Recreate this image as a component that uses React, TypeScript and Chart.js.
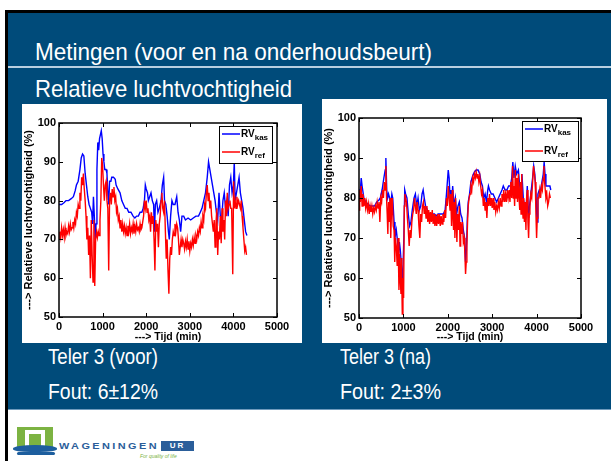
import React, { useEffect, useLayoutEffect, useRef } from "react";
import { Chart, registerables } from "chart.js";
Chart.register(...registerables);

// ---------- data ----------
const xTickValues = [0, 1000, 2000, 3000, 4000, 5000];
const yTickValues = [50, 60, 70, 80, 90, 100];

const titleText = "Metingen (voor en na onderhoudsbeurt)";
const subtitleText = "Relatieve luchtvochtigheid";
const captionLeft = ["Teler 3 (voor)", "Fout: 6\u00b112%"];
const captionRight = ["Teler 3 (na)", "Fout: 2\u00b13%"];
const xAxisTitle = "---> Tijd (min)";
const yAxisTitle = "---> Relatieve luchtvochtigheid (%)";

// Teler 3 (voor): RV kas (blue)
const voorKas: [number, number][] = [
  [0, 79], [60, 79], [120, 79.5], [160, 80], [220, 80], [280, 80.5], [330, 81], [370, 82.5], [400, 84], [440, 85],
  [480, 88], [510, 91], [540, 92], [570, 91.5], [600, 87], [630, 84], [660, 81], [690, 79], [720, 78], [750, 77],
  [770, 74], [790, 81], [810, 76], [830, 70], [850, 74], [870, 88], [890, 95], [910, 93], [930, 96], [950, 97],
  [970, 98], [990, 96], [1010, 92], [1030, 90], [1050, 88], [1080, 88], [1100, 87], [1120, 82], [1140, 79], [1160, 85],
  [1190, 85], [1210, 86], [1250, 86], [1290, 85.5], [1310, 84], [1350, 83], [1400, 82], [1440, 80], [1480, 79], [1520, 78],
  [1560, 78], [1600, 77], [1650, 77], [1700, 76], [1740, 75.5], [1780, 76], [1820, 76], [1860, 77], [1900, 77], [1930, 78],
  [1960, 80], [1980, 84], [2000, 83], [2030, 82], [2050, 80], [2080, 81], [2110, 82], [2140, 80], [2170, 79], [2190, 72],
  [2210, 79], [2240, 80], [2270, 77], [2300, 78], [2340, 80], [2370, 84], [2400, 86], [2420, 80], [2450, 79], [2480, 76],
  [2510, 72], [2530, 70], [2560, 76], [2590, 80], [2620, 79], [2660, 79], [2700, 81], [2730, 77], [2760, 75], [2790, 72],
  [2820, 76], [2860, 76], [2900, 75], [2960, 75.5], [3020, 75], [3080, 75.5], [3140, 76], [3200, 76], [3240, 77], [3280, 78],
  [3320, 80], [3360, 82], [3400, 86], [3430, 90], [3460, 88], [3490, 86], [3520, 84], [3550, 82], [3580, 80], [3610, 77],
  [3640, 75], [3670, 82], [3700, 76], [3730, 75], [3760, 80], [3790, 82], [3820, 78], [3850, 80], [3880, 76], [3910, 84],
  [3940, 86], [3970, 82], [4000, 84], [4020, 90], [4040, 80], [4070, 82], [4100, 84], [4130, 86], [4160, 82], [4190, 80],
  [4220, 78], [4250, 75], [4280, 72], [4310, 71],
];

// Teler 3 (voor): RV ref (red)
const voorRef: [number, number][] = [
  [0, 70], [20, 72], [40, 70.5], [60, 73], [80, 71], [100, 72.5], [120, 70.5], [140, 73], [160, 71], [180, 72],
  [200, 71.5], [220, 73.5], [240, 72], [260, 74], [280, 72.5], [300, 73], [320, 74.5], [340, 73], [360, 75], [380, 74],
  [400, 77], [420, 76], [440, 79], [460, 78], [480, 82], [500, 80], [520, 86], [540, 84], [560, 87], [580, 83],
  [600, 80], [620, 76], [640, 70], [660, 73], [680, 66], [700, 71], [720, 60], [740, 75], [760, 66], [780, 59],
  [800, 75], [820, 58], [840, 70], [860, 72], [880, 70.5], [900, 72], [920, 71], [940, 75], [960, 80], [980, 91],
  [1000, 89], [1020, 84], [1040, 80], [1060, 84], [1080, 85], [1100, 80], [1120, 78], [1140, 62], [1160, 80], [1180, 82],
  [1200, 79], [1220, 83], [1240, 81], [1260, 83.5], [1280, 80], [1300, 81], [1320, 77], [1340, 78], [1360, 75], [1380, 76],
  [1400, 73], [1420, 75], [1440, 72], [1460, 74], [1480, 72], [1500, 73.5], [1520, 71.5], [1540, 73], [1560, 71], [1580, 73.5],
  [1600, 72], [1620, 74], [1640, 71.5], [1660, 73], [1680, 72], [1700, 74], [1720, 71.5], [1740, 73.5], [1760, 72], [1780, 74],
  [1800, 72.5], [1820, 73], [1840, 72], [1860, 74], [1880, 72.5], [1900, 73], [1920, 74.5], [1940, 76], [1960, 80], [1980, 78],
  [2000, 80], [2020, 77], [2040, 78], [2060, 75], [2080, 76], [2100, 72], [2120, 77], [2140, 74], [2160, 76], [2180, 70],
  [2200, 62], [2220, 75], [2240, 72], [2260, 74], [2280, 68], [2300, 74], [2320, 76], [2340, 80], [2360, 82], [2380, 78],
  [2400, 77], [2420, 80], [2440, 72], [2460, 65], [2480, 70], [2500, 62], [2520, 56], [2540, 65], [2560, 68], [2580, 66],
  [2600, 70], [2620, 72], [2640, 71], [2660, 74], [2680, 72], [2700, 74], [2720, 73], [2740, 70], [2760, 66], [2780, 68],
  [2800, 70], [2820, 68], [2840, 70], [2860, 69], [2880, 67.5], [2900, 69.5], [2920, 68], [2940, 70], [2960, 67.5], [2980, 69.5],
  [3000, 67], [3020, 69], [3040, 68], [3060, 70], [3080, 68.5], [3100, 70.5], [3120, 69], [3140, 71], [3160, 70], [3180, 72],
  [3200, 71], [3220, 73], [3240, 72], [3260, 74.5], [3280, 73], [3300, 76], [3320, 75], [3340, 79], [3360, 78], [3380, 82],
  [3400, 84], [3420, 80], [3440, 82], [3460, 78], [3480, 80], [3500, 76], [3520, 74], [3540, 72], [3560, 75], [3580, 68],
  [3600, 74], [3620, 78], [3640, 66], [3660, 72], [3680, 70], [3700, 76], [3720, 69], [3740, 78], [3760, 72], [3780, 75],
  [3800, 70], [3820, 80], [3840, 76], [3860, 82], [3880, 78], [3900, 79], [3920, 80], [3940, 78], [3960, 78], [3985, 61],
  [4005, 85], [4020, 78], [4040, 80], [4060, 78], [4080, 81], [4100, 79], [4120, 80], [4140, 79], [4160, 78], [4180, 80],
  [4200, 76], [4220, 73], [4240, 70], [4260, 67], [4280, 68], [4300, 66],
];

// Teler 3 (na): RV kas (blue)
const naKas: [number, number][] = [
  [0, 82], [30, 82], [50, 85], [70, 83], [90, 83], [110, 80], [150, 79], [200, 78.5], [250, 78], [300, 78],
  [350, 78], [400, 79], [450, 79.5], [480, 80], [520, 82], [560, 85], [590, 87], [605, 90], [625, 82], [645, 80],
  [665, 81], [690, 80], [710, 78], [740, 81], [760, 80], [790, 74], [810, 70], [840, 72], [870, 69], [890, 66],
  [910, 69], [930, 67], [950, 64], [970, 60], [990, 62], [1010, 70], [1030, 82], [1050, 81], [1080, 80], [1110, 76],
  [1140, 73], [1170, 74], [1200, 77], [1240, 80], [1270, 81], [1300, 78], [1330, 80], [1360, 77], [1390, 78], [1420, 81],
  [1445, 82], [1470, 80], [1500, 78], [1540, 77], [1580, 76], [1620, 76], [1660, 76], [1700, 76], [1740, 75.5], [1780, 76],
  [1820, 76], [1860, 76], [1900, 76], [1940, 77], [1970, 81], [1990, 84], [2010, 87], [2030, 85], [2050, 80], [2070, 82],
  [2090, 79], [2110, 83], [2140, 78], [2170, 80], [2200, 76], [2230, 78], [2260, 79], [2290, 76], [2320, 75], [2350, 72],
  [2380, 70], [2400, 64], [2420, 67], [2440, 75], [2460, 79], [2490, 81], [2520, 84], [2560, 85.5], [2600, 86.5], [2640, 87],
  [2680, 87], [2720, 86], [2750, 84], [2780, 83], [2810, 80], [2840, 81], [2870, 79], [2900, 82], [2915, 83], [2940, 82],
  [2980, 81], [3020, 81], [3060, 80], [3100, 79], [3140, 80], [3180, 81], [3220, 82], [3250, 83], [3290, 82], [3330, 82],
  [3370, 83], [3410, 83], [3440, 85], [3465, 89], [3490, 85], [3520, 88], [3550, 86], [3590, 87], [3620, 83], [3650, 80],
  [3670, 86], [3700, 80], [3730, 78], [3760, 76], [3790, 83], [3820, 75], [3850, 79], [3880, 82], [3910, 85], [3935, 88],
  [3960, 86], [3990, 80], [4010, 74], [4030, 81], [4060, 82], [4090, 82], [4120, 84], [4150, 86], [4170, 89], [4190, 86],
  [4210, 83], [4240, 83], [4270, 83], [4300, 83], [4320, 82],
];

// Teler 3 (na): RV ref (red)
const naRef: [number, number][] = [
  [0, 77], [15, 82], [30, 79], [50, 83], [70, 78], [90, 81], [110, 78], [130, 80], [150, 77.5], [170, 79],
  [190, 77], [210, 78.5], [230, 76], [250, 78], [270, 76.5], [290, 78], [310, 76], [330, 77.5], [350, 76.5], [370, 78],
  [390, 77], [410, 79], [430, 77.5], [450, 79], [470, 74], [490, 80], [510, 79], [530, 82], [550, 80], [570, 84],
  [590, 82], [605, 88], [620, 80], [635, 76], [650, 71], [665, 79], [680, 74], [700, 80], [715, 70], [730, 76],
  [750, 80], [770, 73], [790, 72], [805, 64], [820, 70], [840, 68], [860, 63], [880, 70], [900, 57], [915, 66],
  [930, 60], [945, 56], [955, 65], [965, 58], [975, 51], [990, 60], [1005, 55], [1020, 78], [1035, 81], [1050, 80],
  [1070, 79], [1090, 75], [1110, 72], [1130, 68], [1150, 72], [1170, 70], [1190, 74], [1210, 76], [1230, 77], [1250, 80],
  [1270, 78], [1290, 76], [1310, 79], [1330, 77], [1350, 73], [1370, 70], [1390, 76], [1410, 74], [1430, 78], [1450, 79],
  [1470, 76], [1490, 78], [1510, 75], [1530, 78], [1550, 74], [1570, 77], [1590, 73.5], [1610, 76.5], [1630, 74], [1650, 77],
  [1670, 73.5], [1690, 76], [1710, 73], [1730, 75.5], [1750, 73], [1770, 76], [1790, 73.5], [1810, 76], [1830, 73], [1850, 75.5],
  [1870, 73.5], [1890, 76], [1910, 74], [1930, 77], [1950, 75], [1970, 80], [1990, 78], [2010, 83], [2030, 80], [2050, 77],
  [2065, 81], [2085, 73], [2100, 82], [2115, 76], [2130, 72], [2145, 79], [2160, 70], [2175, 80], [2190, 74], [2205, 69],
  [2220, 76], [2240, 72], [2260, 78], [2275, 68], [2290, 74], [2310, 71], [2330, 74], [2350, 69], [2370, 70], [2385, 66],
  [2400, 61], [2415, 64], [2430, 68], [2445, 74], [2460, 78], [2480, 80], [2500, 81], [2520, 83], [2540, 82], [2560, 85],
  [2580, 84], [2600, 86], [2620, 85], [2640, 86.5], [2660, 85], [2680, 86], [2700, 84], [2720, 85.5], [2740, 83], [2760, 81],
  [2780, 82], [2800, 78], [2820, 80], [2840, 77], [2860, 79], [2880, 75], [2900, 80], [2920, 78], [2940, 81], [2960, 78],
  [2980, 80], [3000, 77.5], [3020, 80], [3040, 77], [3060, 79], [3080, 76.5], [3100, 78], [3120, 77], [3140, 79], [3160, 77.5],
  [3180, 80], [3200, 78], [3220, 81], [3240, 79], [3260, 82], [3280, 79], [3300, 81], [3320, 79], [3340, 82], [3360, 80],
  [3380, 82], [3400, 79], [3420, 84], [3440, 80], [3460, 88], [3475, 80], [3490, 83], [3505, 78], [3520, 87], [3540, 80],
  [3555, 85], [3570, 79], [3590, 86], [3605, 80], [3620, 77], [3635, 84], [3650, 76], [3665, 86], [3680, 78], [3695, 75],
  [3710, 80], [3725, 74], [3740, 79], [3760, 72], [3775, 80], [3790, 82], [3805, 74], [3820, 70], [3835, 76], [3850, 78],
  [3870, 81], [3890, 80], [3910, 84], [3930, 88], [3950, 86], [3970, 84], [3985, 76], [4000, 70], [4015, 75], [4030, 80],
  [4050, 80], [4070, 82], [4090, 80], [4110, 83], [4130, 82], [4150, 85], [4165, 88], [4180, 84], [4195, 82], [4210, 80],
  [4230, 81], [4250, 78], [4270, 79], [4290, 81], [4310, 80],
];

// ---------- chart ----------
const FONT = '"Liberation Sans", Arial, sans-serif';
const BLUE = "#0000ff";
const RED = "#ff0000";

type LegendBox = { inset: number; top: number; w: number; h: number; y1: number; y2: number };

const framePlugin = {
  id: "matlabFrame",
  afterDatasetsDraw(chart: any, _args: any, opts: any) {
    const { ctx, chartArea: a, scales } = chart;
    ctx.save();
    ctx.strokeStyle = "#000";
    ctx.lineWidth = 1.5;
    ctx.strokeRect(a.left, a.top, a.right - a.left, a.bottom - a.top);
    const L = 4;
    ctx.lineWidth = 1;
    ctx.beginPath();
    for (const v of xTickValues) {
      const x = Math.round(scales.x.getPixelForValue(v)) + 0.5;
      ctx.moveTo(x, a.bottom);
      ctx.lineTo(x, a.bottom - L);
      ctx.moveTo(x, a.top);
      ctx.lineTo(x, a.top + L);
    }
    for (const v of yTickValues) {
      const y = Math.round(scales.y.getPixelForValue(v)) + 0.5;
      ctx.moveTo(a.left, y);
      ctx.lineTo(a.left + L, y);
      ctx.moveTo(a.right, y);
      ctx.lineTo(a.right - L, y);
    }
    ctx.stroke();

    // legend
    const lg: LegendBox = opts.legend;
    const bx = a.right - lg.inset - lg.w;
    const by = a.top + lg.top;
    ctx.fillStyle = "#fff";
    ctx.fillRect(bx, by, lg.w, lg.h);
    ctx.lineWidth = 1;
    ctx.strokeStyle = "#000";
    ctx.strokeRect(bx + 0.5, by + 0.5, lg.w, lg.h);
    const rows: [string, string, number][] = [
      [BLUE, "kas", lg.y1],
      [RED, "ref", lg.y2],
    ];
    for (const [col, sub, yy] of rows) {
      const y = by + yy;
      ctx.strokeStyle = col;
      ctx.lineWidth = 1.5;
      ctx.beginPath();
      ctx.moveTo(bx + 3, y);
      ctx.lineTo(bx + 21, y);
      ctx.stroke();
      ctx.fillStyle = "#000";
      ctx.textBaseline = "alphabetic";
      ctx.textAlign = "left";
      ctx.font = `bold 10px ${FONT}`;
      ctx.fillText("RV", bx + 22, y + 3);
      const w = ctx.measureText("RV").width;
      ctx.font = `bold 8px ${FONT}`;
      ctx.fillText(sub, bx + 22 + w, y + 6);
    }
    ctx.restore();
  },
};

function makeConfig(
  kas: [number, number][],
  ref: [number, number][],
  padTop: number,
  padRight: number,
  xAxisH: number,
  legend: LegendBox
): any {
  return {
    type: "line",
    data: {
      datasets: [
        {
          label: "RV ref",
          data: ref.map(([x, y]) => ({ x, y })),
          borderColor: RED,
          borderWidth: 1.4,
          pointRadius: 0,
          tension: 0,
          order: 0,
        },
        {
          label: "RV kas",
          data: kas.map(([x, y]) => ({ x, y })),
          borderColor: BLUE,
          borderWidth: 1.4,
          pointRadius: 0,
          tension: 0,
          order: 1,
        },
      ],
    },
    options: {
      responsive: false,
      animation: false,
      events: [],
      layout: { padding: { top: padTop, right: padRight, left: 0, bottom: 0 } },
      plugins: {
        legend: { display: false },
        tooltip: { enabled: false },
        matlabFrame: { legend },
      },
      scales: {
        x: {
          type: "linear",
          min: 0,
          max: 5000,
          grid: { display: false, drawTicks: false },
          border: { display: false },
          ticks: {
            stepSize: 1000,
            color: "#000",
            padding: 3,
            maxRotation: 0,
            callback: (v: any) => String(v),
            font: { family: FONT, size: 11, weight: "bold" },
          },
          title: {
            display: true,
            text: xAxisTitle,
            color: "#000",
            padding: { top: 0, bottom: 0 },
            font: { family: FONT, size: 10.5, weight: "bold" },
          },
          afterFit: (s: any) => {
            s.height = xAxisH;
          },
        },
        y: {
          min: 50,
          max: 100,
          grid: { display: false, drawTicks: false },
          border: { display: false },
          ticks: {
            stepSize: 10,
            color: "#000",
            padding: 3,
            callback: (v: any) => String(v),
            font: { family: FONT, size: 11, weight: "bold" },
          },
          title: {
            display: true,
            text: yAxisTitle,
            color: "#000",
            padding: { top: 0, bottom: 0 },
            font: { family: FONT, size: 11, weight: "bold" },
          },
          afterFit: (s: any) => {
            s.width = 37;
          },
        },
      },
    },
    plugins: [framePlugin],
  };
}

function RVChart(props: {
  kas: [number, number][];
  refData: [number, number][];
  left: number;
  top: number;
  w: number;
  h: number;
  padTop: number;
  padRight: number;
  xAxisH: number;
  legend: LegendBox;
}) {
  const cRef = useRef<HTMLCanvasElement>(null);
  useEffect(() => {
    const chart = new Chart(
      cRef.current as HTMLCanvasElement,
      makeConfig(props.kas, props.refData, props.padTop, props.padRight, props.xAxisH, props.legend)
    );
    return () => chart.destroy();
  }, []);
  return (
    <canvas
      ref={cRef}
      width={props.w}
      height={props.h}
      style={{
        position: "absolute",
        left: props.left,
        top: props.top,
        width: props.w,
        height: props.h,
        background: "#fff",
      }}
    />
  );
}

const SLIDE_FONT = '"Liberation Sans", Arial, sans-serif';
const SLIDE_BLUE = "#004b7a";

// text squeezed horizontally to a target width (condensed look)
function FitText(props: {
  x: number;
  y: number;
  size: number;
  width: number;
  color?: string;
  weight?: string;
  spacing?: number;
  children: React.ReactNode;
}) {
  const r = useRef<HTMLDivElement>(null);
  useLayoutEffect(() => {
    const el = r.current;
    if (!el) return;
    el.style.transform = "none";
    const w = el.getBoundingClientRect().width;
    if (w > 0) el.style.transform = `scaleX(${props.width / w})`;
  }, []);
  return (
    <div
      ref={r}
      style={{
        position: "absolute",
        left: props.x,
        top: props.y,
        fontFamily: SLIDE_FONT,
        fontSize: props.size,
        fontWeight: (props.weight || "normal") as any,
        letterSpacing: props.spacing || 0,
        lineHeight: 1,
        color: props.color || "#fff",
        whiteSpace: "nowrap",
        transformOrigin: "0 0",
        display: "inline-block",
      }}
    >
      {props.children}
    </div>
  );
}

export default function App() {
  return (
    <div
      style={{
        position: "fixed",
        left: 0,
        top: 0,
        width: 611,
        height: 461,
        background: "#fff",
        overflow: "hidden",
      }}
    >
      {/* black frame */}
      <div style={{ position: "absolute", left: 5, top: 10, width: 606, height: 3, background: "#000" }} />
      <div style={{ position: "absolute", left: 5, top: 10, width: 3, height: 451, background: "#000" }} />
      {/* blue area */}
      <div style={{ position: "absolute", left: 8, top: 13, width: 603, height: 397, background: SLIDE_BLUE }} />
      <div style={{ position: "absolute", left: 8, top: 409, width: 603, height: 1, background: "#6f9bbd" }} />
      {/* separator */}
      <div style={{ position: "absolute", left: 8, top: 66, width: 603, height: 2, background: "#b9cfe0" }} />

      <FitText x={35} y={40} size={24} width={397}>{titleText}</FitText>
      <FitText x={35} y={77} size={24} width={257}>{subtitleText}</FitText>

      <RVChart
        kas={voorKas}
        refData={voorRef}
        left={22}
        top={104}
        w={280}
        h={239}
        padTop={19}
        padRight={25}
        xAxisH={26}
        legend={{ inset: 5, top: 3, w: 53, h: 37, y1: 8, y2: 26 }}
      />
      <RVChart
        kas={naKas}
        refData={naRef}
        left={322}
        top={99}
        w={285}
        h={244}
        padTop={19}
        padRight={26}
        xAxisH={25}
        legend={{ inset: 3, top: 3, w: 56, h: 40, y1: 8, y2: 30 }}
      />

      <FitText x={48} y={346} size={22} width={110}>{captionLeft[0]}</FitText>
      <FitText x={48} y={381} size={22} width={110}>{captionLeft[1]}</FitText>
      <FitText x={340} y={346} size={22} width={91}>{captionRight[0]}</FitText>
      <FitText x={340} y={381} size={22} width={101}>{captionRight[1]}</FitText>

      {/* logo */}
      <div style={{ position: "absolute", left: 17, top: 427, width: 36, height: 20, background: "#7cb342" }} />
      <div style={{ position: "absolute", left: 25, top: 430, width: 20, height: 17, background: "#fff" }} />
      <div style={{ position: "absolute", left: 29, top: 434, width: 12, height: 13, background: "#7cb342" }} />
      <div style={{ position: "absolute", left: 13, top: 445, width: 44, height: 7, background: "#1d5e9e", borderRadius: "50% 50% 40% 40%" }} />
      <div style={{ position: "absolute", left: 17, top: 452, width: 38, height: 3, background: "#1d5e9e", borderRadius: 2 }} />
      <FitText x={59} y={442} size={9} width={100} color="#2b5e9a" weight="bold" spacing={2}>
        WAGENINGEN
      </FitText>
      <div
        style={{
          position: "absolute",
          left: 161,
          top: 441,
          width: 33,
          height: 10,
          background: "#2b5e9a",
          color: "#fff",
          fontFamily: '"Liberation Sans", Arial, sans-serif',
          fontWeight: "bold",
          fontSize: 8,
          lineHeight: "10px",
          textAlign: "center",
          letterSpacing: 2,
        }}
      >
        UR
      </div>
      <div
        style={{
          position: "absolute",
          left: 140,
          top: 454,
          fontFamily: '"Liberation Sans", Arial, sans-serif',
          fontStyle: "italic",
          fontSize: 5,
          color: "#7cb342",
          lineHeight: 1,
          whiteSpace: "nowrap",
        }}
      >
        For quality of life
      </div>
    </div>
  );
}
